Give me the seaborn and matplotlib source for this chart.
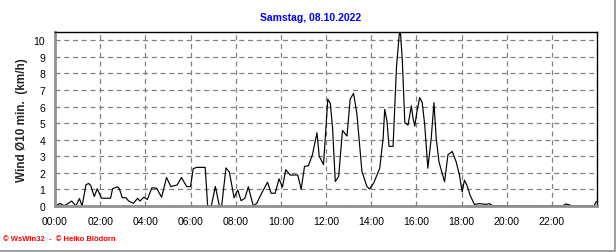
import matplotlib
matplotlib.use("Agg")
import matplotlib.pyplot as plt
from matplotlib.lines import Line2D
import seaborn as sns
import pandas as pd

# ---- data (hours of day, wind 10-min mean km/h) ----
hours = [0.04, 0.22, 0.40, 0.52, 0.74, 0.92, 1.08, 1.20, 1.37, 1.49, 1.58, 1.74, 1.87,
         2.06, 2.36, 2.46, 2.55, 2.76, 2.85, 2.98, 3.14, 3.26, 3.47, 3.66, 3.76, 3.94,
         4.09, 4.29, 4.50, 4.72, 4.94, 5.13, 5.41, 5.60, 5.83, 6.00, 6.12, 6.27, 6.65,
         6.76, 6.92, 7.10, 7.28, 7.38, 7.57, 7.72, 7.93, 8.09, 8.24, 8.41, 8.56, 8.78,
         8.93, 9.15, 9.41, 9.57, 9.75, 9.92, 10.07, 10.22, 10.41, 10.75, 10.90, 11.05,
         11.22, 11.40, 11.60, 11.70, 11.89, 12.08, 12.19, 12.29, 12.41, 12.56, 12.73,
         12.93, 13.07, 13.22, 13.37, 13.59, 13.81, 13.93, 14.11, 14.38, 14.53, 14.60,
         14.70, 14.79, 14.97, 15.12, 15.24, 15.29, 15.38, 15.49, 15.63, 15.78, 15.85,
         15.93, 16.03, 16.15, 16.26, 16.37, 16.51, 16.66, 16.78, 16.88, 17.00, 17.25,
         17.40, 17.59, 17.76, 17.91, 18.03, 18.13, 18.24, 18.38, 18.57, 18.79, 19.09,
         19.24, 19.38, 22.47, 22.62, 22.76, 22.91, 23.87, 23.97]
wind = [0.0, 0.16, 0.02, 0.1, 0.3, 0.0, 0.45, 0.0, 1.28, 1.36, 1.24, 0.57, 1.04,
        0.47, 0.47, 0.47, 1.04, 1.16, 1.04, 0.5, 0.5, 0.3, 0.16, 0.47, 0.3, 0.53,
        0.39, 1.1, 1.07, 0.53, 1.72, 1.17, 1.27, 1.72, 1.17, 1.17, 2.25, 2.33, 2.33,
        0.0, 0.0, 1.18, 0.0, 0.0, 2.3, 2.05, 0.5, 0.97, 0.32, 0.47, 1.16, 0.0,
        0.16, 0.77, 1.44, 0.77, 0.77, 1.64, 1.14, 2.19, 1.87, 1.87, 1.01, 2.39,
        2.43, 3.1, 4.42, 3.0, 2.5, 6.45, 6.19, 4.73, 1.48, 1.78, 4.56,
        4.22, 6.45, 6.8, 5.54, 2.09, 1.18, 1.03, 1.38, 2.28, 4.1, 5.83,
        5.12, 3.6, 3.6, 8.37, 10.3, 10.6, 8.78, 5.02, 4.88, 6.04, 5.33,
        4.82, 5.73, 6.54, 6.24, 4.92, 2.28, 4.1, 6.24, 4.1, 2.68, 1.46,
        3.09, 3.29, 2.68, 1.87, 0.85, 1.56, 1.26, 0.65, 0.1, 0.14, 0.1,
        0.14, 0.02, 0.0, 0.12, 0.08, 0.0, 0.0, 0.28]
x_ticks = [0, 2, 4, 6, 8, 10, 12, 14, 16, 18, 20, 22]
x_labels = ["00:00", "02:00", "04:00", "06:00", "08:00", "10:00", "12:00",
            "14:00", "16:00", "18:00", "20:00", "22:00"]
y_ticks = [0, 1, 2, 3, 4, 5, 6, 7, 8, 9, 10]
title = "Samstag, 08.10.2022"
ylabel = "Wind Ø10 min.  (km/h)"
footer = "© WsWin32  -  © Heiko Blödorn"

df = pd.DataFrame({"h": hours, "v": wind})

sns.set_style("white")
plt.rcParams["font.family"] = ["Liberation Sans", "DejaVu Sans"]

W, H = 616, 253
fig = plt.figure(figsize=(W / 100, H / 100), dpi=100)
fig.patch.set_facecolor("white")
ax = fig.add_axes([55 / W, 1 - 207 / H, (597 - 55) / W, (207 - 33) / H])

sns.lineplot(data=df, x="h", y="v", ax=ax, color="black", linewidth=0.85,
             estimator=None, sort=False)

ax.set_xlim(0, 24)
ax.set_ylim(0, 10.5)
ax.set_xticks(x_ticks)
ax.set_xticklabels(x_labels)
ax.set_xticks(range(0, 25), minor=True)
ax.set_yticks(y_ticks)
ax.tick_params(axis="both", which="both", direction="out", length=4,
               width=1, color="#808080", labelsize=7.5, pad=3, labelcolor="black")
ax.grid(True, which="major", color="#808080", linestyle=(0, (4, 3)), linewidth=0.9)
ax.set_axisbelow(True)

for s in ["top", "right"]:
    ax.spines[s].set_color("black")
    ax.spines[s].set_linewidth(1.0)
for s in ["bottom", "left"]:
    ax.spines[s].set_color("#909090")
    ax.spines[s].set_linewidth(2.0)

ax.set_xlabel("")
ax.set_ylabel(ylabel, fontsize=8.5, fontweight="bold", labelpad=4)

fig.text(311 / W, 1 - 18 / H, title, color="#0000ff", fontsize=7.5,
         fontweight="bold", ha="center", va="center")
fig.text(3 / W, 1 - 240 / H, footer, color="#ff0000", fontsize=5.5,
         fontweight="bold", ha="left", va="center")

fig.add_artist(Line2D([614.5 / W, 614.5 / W], [1 - 251 / H, 1], color="#a0a0a0",
                      linewidth=1.5, transform=fig.transFigure))
fig.add_artist(Line2D([0, 614.5 / W], [1 - 251.5 / H, 1 - 251.5 / H], color="#a0a0a0",
                      linewidth=1.5, transform=fig.transFigure))

fig.savefig("out.png", dpi=100)
